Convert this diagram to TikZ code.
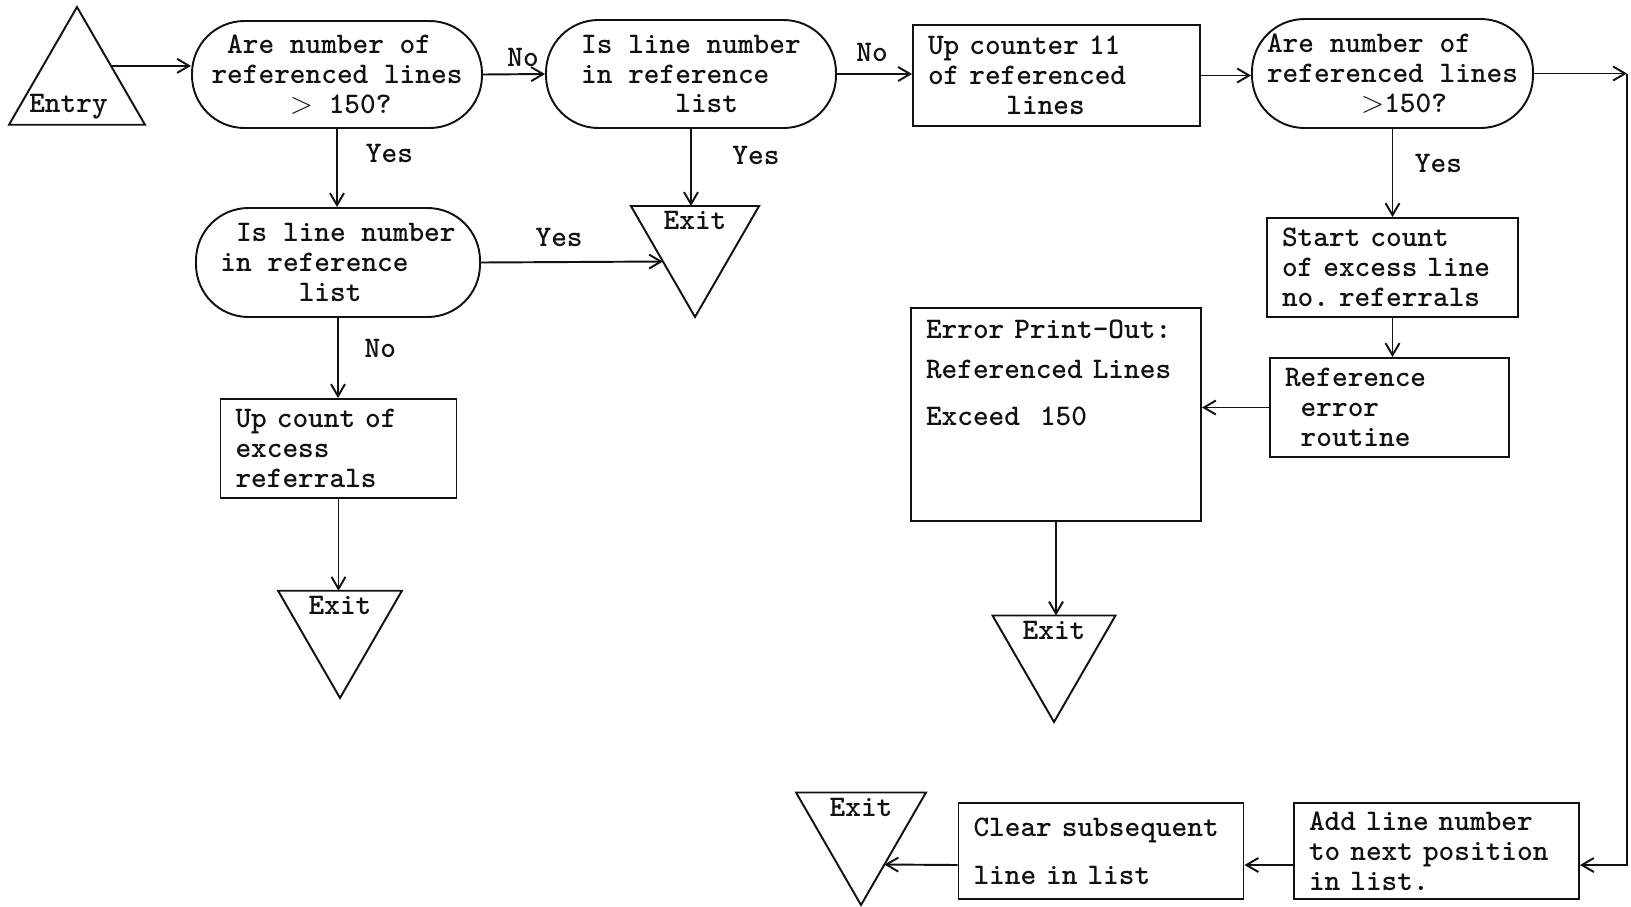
\documentclass[tikz,border=0pt]{standalone}
\usetikzlibrary{arrows.meta,calc,positioning,shapes.geometric}
\definecolor{flowink}{HTML}{111111}
\frenchspacing
\tikzset{
  flow text/.style={text=flowink, font=\ttfamily\bfseries\fontsize{17}{17}\selectfont},
  flow decision/.style={
    flow text, rectangle, rounded corners=1.05cm,
    draw=flowink, line width=1.1pt,
    minimum width=5.8cm, minimum height=2.14cm,
    inner xsep=2pt, inner ysep=2pt, align=left
  },
  flow step/.style={
    flow text, rectangle, draw=flowink, line width=1.1pt,
    minimum height=1.98cm, inner xsep=0.3cm, inner ysep=2pt, align=left
  },
  flow terminal/.style={
    regular polygon, regular polygon sides=3,
    draw=flowink, line width=1.1pt, inner sep=0pt, outer sep=0pt
  },
  flow exit/.style={flow terminal, shape border rotate=180},
  flow line/.style={draw=flowink, line width=1.1pt},
  flow arrow/.style={flow line, -{Straight Barb[length=2.4mm,width=2.8mm]}},
  flow label/.style={flow text, inner sep=1pt},
  exit label/.style={flow label, anchor=north, yshift=-2pt}
}

\begin{document}
\begin{tikzpicture}
  \useasboundingbox (0,0) rectangle (32.62,-18.12);

  % entry and the first test
  \node[flow terminal, minimum size=3.14cm] (entry) at (1.54,-1.71) {};
  \node[flow label, anchor=south, xshift=-0.17cm, yshift=0.08cm] (entrytext)
    at ($(entry.corner 2)!0.5!(entry.corner 3)$) {Entry};

  \node[flow decision] (decA) at (6.74,-1.49)
    {\phantom{x}Are number of\\referenced lines\\\phantom{xxxxx}$>$ 150?};
  \node[flow decision, minimum width=5.68cm, minimum height=2.18cm] (decB) at (6.76,-5.25)
    {\phantom{x}Is line number\\in reference\\\phantom{xxxxx}list};
  \node[flow step, text width=4.12cm] (upI) at (6.77,-8.97)
    {Up count of\\excess\\referrals};
  \node[flow exit, minimum size=2.86cm] (exit2) at (6.8,-12.53) {};

  \node[flow decision, minimum height=2.16cm] (decC) at (13.82,-1.48)
    {Is line number\\in reference\\\phantom{xxxxxx}list};
  \node[flow exit, minimum size=2.96cm] (exit1) at (13.9,-4.86) {};

  \node[flow step, text width=5.14cm, minimum height=2.02cm] (upD) at (21.13,-1.51)
    {Up counter 11\\of referenced\\\phantom{xxxxx}lines};
  \node[flow decision, minimum width=5.62cm, minimum height=2.18cm] (decE) at (27.85,-1.47)
    {Are number of\\referenced lines\\\phantom{xxxxxx}$>$150?};
  \node[flow step, text width=4.42cm] (startF) at (27.85,-5.35)
    {Start count\\of excess line\\no. referrals};
  \node[flow step, text width=4.18cm] (refG) at (27.79,-8.15)
    {Reference\\\phantom{x}error\\\phantom{x}routine};

  \node[flow step, text width=5.2cm, minimum height=4.26cm, inner ysep=0.22cm] (errH) at (21.12,-8.29)
    {Error Print-Out:\\[0.2cm]Referenced Lines\\[0.34cm]Exceed~~150\\[1.06cm]\mbox{}};
  \node[flow exit, minimum size=2.84cm] (exit3) at (21.08,-13.02) {};

  % bottom row, fed from the right-hand rail
  \node[flow step, text width=5.1cm, minimum height=1.92cm] (addK) at (28.73,-17.02)
    {Add line number\\to next position\\in list.};
  \node[flow step, text width=5.1cm, minimum height=1.92cm] (clearJ) at (22.02,-17.02)
    {Clear subsequent\\[0.36cm]line in list};
  \node[flow exit, minimum size=3cm] (exit4) at (17.22,-16.6) {};

  \foreach \t in {exit1,exit2,exit3,exit4}
    \node[exit label] (\t text) at ($(\t.corner 2)!0.5!(\t.corner 3)$) {Exit};

  \coordinate (entryport) at ($(entry.corner 1)!0.5!(entry.corner 3)$);
  \coordinate[right=1.86cm of decE.east] (railtop);

  \draw[flow arrow] (entryport) -- (entryport -| decA.west);
  \draw[flow arrow] (decA.east) -- (decC.west);
  \draw[flow arrow] (decA.south) -- (decA.south |- decB.north);
  \draw[flow arrow] (decB.east) -- ($(exit1.corner 3)!0.5!(exit1.corner 1)$);
  \draw[flow arrow] (decB.south) -- (decB.south |- upI.north);
  \draw[flow arrow] (upI.south) -- (upI.south |- exit2.corner 2);
  \draw[flow arrow] (decC.south) -- (decC.south |- exit1.corner 2);
  \draw[flow arrow] (decC.east) -- (decC.east -| upD.west);
  \draw[flow arrow] (upD.east) -- (upD.east -| decE.west);
  \draw[flow arrow] (decE.south) -- (decE.south |- startF.north);
  \draw[flow arrow] (startF.south) -- (startF.south |- refG.north);
  \draw[flow arrow] (refG.west) -- (refG.west -| errH.east);
  \draw[flow arrow] (errH.south) -- (errH.south |- exit3.corner 2);

  % the "no" branch of the second test runs down the right edge
  \draw[flow arrow] (decE.east) -- (railtop);
  \draw[flow arrow] (railtop) |- ([yshift=-0.28cm]addK.east);
  \draw[flow arrow] ([yshift=-0.28cm]addK.west) -- ([yshift=-0.28cm]clearJ.east);
  \draw[flow arrow] ([yshift=-0.28cm]clearJ.west) -- ($(exit4.corner 2)!0.64!(exit4.corner 1)$);

  % answers beside the lines they belong to
  \node[flow label] (noAC) at ($(decA.east)!0.5!(decC.west)+(0.18,0.33)$) {No};
  \node[flow label] (yesAB) at ($(decA.south)!0.5!(decB.north)+(1.04,0.3)$) {Yes};
  \node[flow label] (yesBexit) at ($(decB.east)!0.5!(exit1.west)+(-0.15,0.3)$) {Yes};
  \node[flow label] (noBI) at ($(decB.south)!0.5!(upI.north)+(0.84,0.2)$) {No};
  \node[flow label] (noCD) at ($(decC.east)!0.5!(upD.west)+(-0.05,0.44)$) {No};
  \node[flow label] (yesCexit) at ($(decC.south)!0.5!(exit1.corner 2 -| decC.south)+(1.3,0.25)$) {Yes};
  \node[flow label] (yesEF) at ($(decE.south)!0.5!(startF.north)+(0.92,0.2)$) {Yes};
\end{tikzpicture}
\end{document}
